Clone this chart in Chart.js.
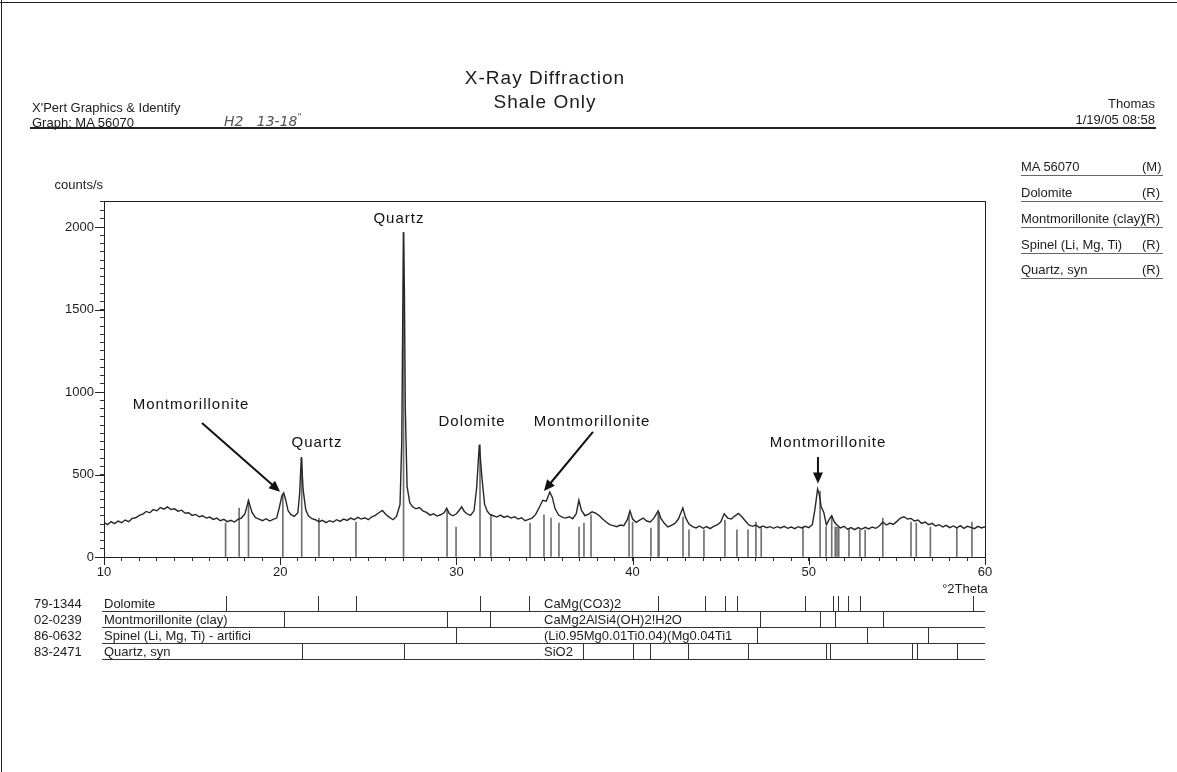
<!DOCTYPE html>
<html>
<head>
<meta charset="utf-8">
<title>X-Ray Diffraction - Shale Only</title>
<script src="https://cdn.jsdelivr.net/npm/chart.js@4.4.1/dist/chart.umd.min.js"></script>
<style>
  html, body { margin: 0; padding: 0; background: #fff; }
  #page { position: relative; width: 1177px; height: 772px; overflow: hidden;
          font-family: "Liberation Sans", Arial, sans-serif; color: #1c1c1c; }
  #page canvas { position: absolute; left: 0; top: 0; }
  .txt { position: absolute; white-space: nowrap; font-size: 13px; line-height: 15px; }
  .rule { position: absolute; background: #222; }
  .title { position: absolute; left: 395px; width: 300px; text-align: center;
           font-size: 19px; line-height: 22px; letter-spacing: 1px; }
  .hand { position: absolute; font-family: "DejaVu Sans", sans-serif; font-style: italic;
          font-size: 14px; color: #555; white-space: nowrap; }
  .leg { position: absolute; left: 1021px; width: 142px; height: 16px;
         border-bottom: 1px solid #666; font-size: 13px; line-height: 15px; }
  .leg .nm { position: absolute; left: 0; top: 0; width: 126px; overflow: hidden; white-space: nowrap; }
  .leg .rt { position: absolute; left: 121px; top: 0; white-space: nowrap; }
</style>
</head>
<body>
<div id="page">
  <canvas id="xrdChart" width="1177" height="772"></canvas>

  <div class="rule" style="left:1px;top:0;width:1px;height:772px;"></div>
  <div class="rule" style="left:0;top:2px;width:1177px;height:1px;"></div>

  <div class="txt" style="left:32px;top:100px;">X'Pert Graphics &amp; Identify</div>
  <div class="txt" style="left:32px;top:115px;">Graph: MA 56070</div>
  <div class="hand" style="left:224px;top:112px;">H2&nbsp;&nbsp;&nbsp;13-18<sup style="font-size:9px">"</sup></div>
  <div class="title" style="top:67px;">X-Ray Diffraction</div>
  <div class="title" style="top:91px;">Shale Only</div>
  <div class="txt" style="right:22px;top:96px;text-align:right;">Thomas</div>
  <div class="txt" style="right:22px;top:112px;text-align:right;">1/19/05 08:58</div>
  <div class="rule" style="left:30px;top:127px;width:1126px;height:2px;"></div>

  <div class="leg" style="top:159px;"><span class="nm">MA 56070</span><span class="rt">(M)</span></div>
  <div class="leg" style="top:185px;"><span class="nm">Dolomite</span><span class="rt">(R)</span></div>
  <div class="leg" style="top:211px;"><span class="nm">Montmorillonite (clay)</span><span class="rt">(R)</span></div>
  <div class="leg" style="top:237px;"><span class="nm">Spinel (Li, Mg, Ti)</span><span class="rt">(R)</span></div>
  <div class="leg" style="top:262px;"><span class="nm">Quartz, syn</span><span class="rt">(R)</span></div>
</div>

<script>
// measured scan, [°2Theta, counts/s]
const scanPoints = [
  [10.0,210],[10.2,196],[10.4,214],[10.6,202],[10.8,218],[11.0,208],[11.2,224],[11.4,214],[11.6,234],[11.8,238],
  [12.0,252],[12.2,260],[12.4,276],[12.6,268],[12.8,288],[13.0,280],[13.2,300],[13.4,290],[13.6,304],[13.8,288],
  [14.0,292],[14.2,278],[14.4,284],[14.6,266],[14.8,268],[15.0,252],[15.2,258],[15.4,244],[15.6,250],[15.8,236],
  [16.0,242],[16.2,228],[16.4,236],[16.6,220],[16.8,228],[17.0,214],[17.2,222],[17.4,212],[17.6,228],[17.8,236],
  [18.0,262],[18.2,342],[18.4,270],[18.6,238],[18.8,230],[19.0,220],[19.2,232],[19.4,218],[19.6,228],[19.8,236],
  [19.95,300],[20.1,372],[20.2,388],[20.3,352],[20.45,280],[20.6,258],[20.8,246],[21.0,268],[21.1,380],[21.2,606],
  [21.3,410],[21.45,286],[21.6,250],[21.8,232],[22.0,226],[22.2,214],[22.4,222],[22.6,208],[22.8,220],[23.0,212],
  [23.2,226],[23.4,216],[23.6,230],[23.8,222],[24.0,236],[24.2,226],[24.4,240],[24.6,230],[24.8,238],[25.0,226],
  [25.2,244],[25.4,252],[25.6,268],[25.8,282],[26.0,258],[26.2,240],[26.4,226],[26.6,246],[26.8,318],[26.9,700],
  [26.95,1400],[27.0,1968],[27.05,1600],[27.1,900],[27.2,430],[27.35,330],[27.5,306],[27.7,292],[27.9,300],[28.1,280],
  [28.3,270],[28.5,254],[28.7,262],[28.9,248],[29.1,256],[29.3,268],[29.45,296],[29.6,262],[29.8,250],[30.0,262],
  [30.15,282],[30.3,304],[30.45,276],[30.6,262],[30.8,252],[31.0,280],[31.15,420],[31.3,680],[31.45,480],[31.6,320],
  [31.75,278],[31.9,258],[32.1,250],[32.3,242],[32.5,254],[32.7,240],[32.9,248],[33.1,236],[33.3,244],[33.5,230],
  [33.7,238],[33.9,220],[34.1,228],[34.3,236],[34.5,258],[34.7,300],[34.9,344],[35.1,338],[35.3,394],[35.45,360],
  [35.6,292],[35.8,254],[36.0,242],[36.2,236],[36.4,244],[36.6,232],[36.8,262],[36.95,344],[37.1,282],[37.3,250],
  [37.5,260],[37.7,274],[37.9,266],[38.1,252],[38.3,230],[38.5,212],[38.7,196],[38.9,190],[39.1,184],[39.3,194],
  [39.5,190],[39.7,226],[39.85,280],[40.0,230],[40.2,210],[40.4,224],[40.6,236],[40.8,218],[41.0,212],[41.2,234],
  [41.45,280],[41.6,236],[41.8,204],[42.0,182],[42.2,192],[42.4,204],[42.6,230],[42.85,298],[43.0,240],[43.2,200],
  [43.4,184],[43.6,176],[43.8,188],[44.0,174],[44.2,184],[44.4,172],[44.6,186],[44.8,194],[45.0,212],[45.2,262],
  [45.4,236],[45.6,230],[45.8,248],[46.0,264],[46.2,244],[46.4,218],[46.6,194],[46.8,186],[47.0,194],[47.2,178],
  [47.4,188],[47.6,178],[47.8,184],[48.0,174],[48.2,184],[48.4,176],[48.6,186],[48.8,174],[49.0,182],[49.2,172],
  [49.4,184],[49.6,176],[49.8,186],[50.0,178],[50.2,196],[50.35,290],[50.5,412],[50.6,376],[50.7,306],[50.85,270],
  [51.0,194],[51.15,226],[51.3,250],[51.45,212],[51.6,194],[51.8,176],[52.0,186],[52.2,168],[52.4,178],[52.6,166],
  [52.8,178],[53.0,168],[53.2,180],[53.4,170],[53.6,182],[53.8,174],[54.0,188],[54.2,212],[54.4,194],[54.6,206],
  [54.8,198],[55.0,216],[55.2,236],[55.4,244],[55.6,230],[55.8,234],[56.0,218],[56.2,224],[56.4,204],[56.6,212],
  [56.8,196],[57.0,204],[57.2,188],[57.4,196],[57.6,182],[57.8,192],[58.0,178],[58.2,188],[58.4,176],[58.6,190],
  [58.8,174],[59.0,186],[59.2,180],[59.4,172],[59.6,186],[59.8,176],[60.0,184]
];

// peak list sticks, [°2Theta, top in counts/s]
const peakSticks = [
  [16.9,206],[17.67,297],[18.2,345],[20.15,380],[21.22,600],[22.2,236],[24.3,212],[27.0,1968],
  [29.47,285],[29.98,182],[31.34,680],[31.96,255],[34.18,206],[34.97,255],[35.37,236],[35.82,206],
  [36.96,182],[37.24,206],[37.64,255],[39.8,255],[40.0,212],[41.04,176],[41.45,267],[41.5,267],
  [42.86,242],[43.2,164],[44.05,164],[45.24,224],[45.92,164],[46.55,164],[47.0,212],[47.3,182],
  [49.67,182],[50.64,400],[50.98,182],[51.3,248],[51.5,182],[51.6,182],[51.7,182],[52.28,176],
  [52.9,164],[53.2,164],[54.2,236],[55.8,212],[56.1,206],[56.9,182],[58.4,176],[59.26,212]
];

const xMajorTicks = [10, 20, 30, 40, 50, 60];
const yMajorTicks = [0, 500, 1000, 1500, 2000];

// reference patterns under the plot
const refCodes = ['79-1344', '02-0239', '86-0632', '83-2471'];
const refNames = ['Dolomite', 'Montmorillonite (clay)', 'Spinel (Li, Mg, Ti) - artifici', 'Quartz, syn'];
const refFormulas = ['CaMg(CO3)2', 'CaMg2AlSi4(OH)2!H2O', '(Li0.95Mg0.01Ti0.04)(Mg0.04Ti1', 'SiO2'];
const dolomiteLines = [16.9, 22.15, 24.3, 31.34, 34.1, 41.45, 44.1, 45.24, 45.9, 49.78, 51.37, 51.66, 52.2, 52.9, 59.32];
const montLines = [20.2, 29.47, 31.9, 47.23, 50.64, 51.49, 54.23];
const spinelLines = [29.98, 47.04, 53.28, 56.78];
const quartzLines = [21.22, 27.0, 37.2, 40.04, 41.0, 43.16, 46.57, 50.98, 51.2, 55.84, 56.12, 58.39];
const refLines = [dolomiteLines, montLines, spinelLines, quartzLines];

// labels and arrows, in data coordinates
const notes = [
  { text: 'Quartz', at: [26.74, 2050] },
  { text: 'Montmorillonite', at: [14.94, 921], from: [15.56, 812], to: [19.99, 396] },
  { text: 'Quartz', at: [22.09, 691] },
  { text: 'Dolomite', at: [30.89, 818] },
  { text: 'Montmorillonite', at: [37.70, 818], from: [37.75, 758], to: [34.97, 400] },
  { text: 'Montmorillonite', at: [51.09, 691], from: [50.52, 606], to: [50.52, 445] }
];

const FONT = '"Liberation Sans", Arial, sans-serif';

function drawArrow(c, x1, y1, x2, y2) {
  const a = Math.atan2(y2 - y1, x2 - x1);
  const len = 11, half = 5;
  c.beginPath();
  c.moveTo(x1, y1);
  c.lineTo(x2 - Math.cos(a) * len * 0.8, y2 - Math.sin(a) * len * 0.8);
  c.lineWidth = 2;
  c.strokeStyle = '#111';
  c.stroke();
  c.beginPath();
  c.moveTo(x2, y2);
  c.lineTo(x2 - Math.cos(a) * len - Math.sin(a) * half, y2 - Math.sin(a) * len + Math.cos(a) * half);
  c.lineTo(x2 - Math.cos(a) * len + Math.sin(a) * half, y2 - Math.sin(a) * len - Math.cos(a) * half);
  c.closePath();
  c.fillStyle = '#111';
  c.fill();
}

// frame, long ticks, notes and the reference table
const xrdDecor = {
  id: 'xrdDecor',
  afterDraw(chart) {
    const c = chart.ctx;
    const xs = chart.scales.x, ys = chart.scales.y;
    const area = chart.chartArea;
    c.save();

    c.strokeStyle = '#222';
    c.lineWidth = 1;
    c.strokeRect(Math.round(area.left) + 0.5, Math.round(area.top) + 0.5,
                 Math.round(area.right - area.left), Math.round(area.bottom - area.top));

    c.beginPath();
    xMajorTicks.forEach(v => {
      const px = Math.round(xs.getPixelForValue(v)) + 0.5;
      c.moveTo(px, area.bottom); c.lineTo(px, area.bottom + 8);
    });
    yMajorTicks.forEach(v => {
      const py = Math.round(ys.getPixelForValue(v)) + 0.5;
      c.moveTo(area.left - 9, py); c.lineTo(area.left, py);
    });
    c.stroke();

    c.fillStyle = '#1c1c1c';
    c.font = '13px ' + FONT;
    c.textBaseline = 'middle';
    c.textAlign = 'right';
    c.fillText('counts/s', area.left - 1, 185);
    c.textAlign = 'center';
    c.fillText('°2Theta', area.right - 20, 589);

    c.font = '15px ' + FONT;
    c.letterSpacing = '1px';
    notes.forEach(n => {
      c.fillStyle = '#111';
      c.fillText(n.text, xs.getPixelForValue(n.at[0]), ys.getPixelForValue(n.at[1]));
      if (n.from) {
        drawArrow(c, xs.getPixelForValue(n.from[0]), ys.getPixelForValue(n.from[1]),
                     xs.getPixelForValue(n.to[0]), ys.getPixelForValue(n.to[1]));
      }
    });
    c.letterSpacing = '0px';

    // reference rows
    c.font = '13px ' + FONT;
    c.textAlign = 'left';
    c.fillStyle = '#1c1c1c';
    c.strokeStyle = '#333';
    c.lineWidth = 1;
    refCodes.forEach((code, i) => {
      const base = 611 + i * 16;
      c.fillText(code, 34, base - 7);
      c.fillText(refNames[i], 104, base - 7);
      c.fillText(refFormulas[i], 544, base - 7);
      c.beginPath();
      c.moveTo(102, base + 0.5); c.lineTo(area.right, base + 0.5);
      refLines[i].forEach(t => {
        const px = Math.round(xs.getPixelForValue(t)) + 0.5;
        c.moveTo(px, base - 15); c.lineTo(px, base);
      });
      c.stroke();
    });

    c.restore();
  }
};

new Chart(document.getElementById('xrdChart'), {
  type: 'line',
  data: {
    datasets: [
      {
        label: 'MA 56070',
        data: scanPoints.map(p => ({ x: p[0], y: p[1] })),
        borderColor: '#262626',
        borderWidth: 1.4,
        pointRadius: 0,
        tension: 0,
        order: 0
      },
      {
        type: 'bar',
        label: 'Peak list',
        data: peakSticks.map(p => ({ x: p[0], y: [0, p[1]] })),
        backgroundColor: '#707070',
        borderWidth: 0,
        barThickness: 1,
        order: 1
      }
    ]
  },
  options: {
    responsive: false,
    animation: false,
    layout: { padding: { left: 44, right: 192, top: 201, bottom: 185 } },
    plugins: { legend: { display: false }, tooltip: { enabled: false } },
    scales: {
      x: {
        type: 'linear', min: 10, max: 60, offset: false,
        afterFit: s => { s.height = 30; },
        grid: { drawOnChartArea: false, tickLength: 4, tickColor: '#333', offset: false },
        border: { color: '#222' },
        ticks: {
          stepSize: 1, autoSkip: false, maxRotation: 0, padding: 4,
          color: '#1c1c1c', font: { family: FONT, size: 13 },
          callback: v => (xMajorTicks.includes(v) ? String(v) : '')
        }
      },
      y: {
        min: 0, max: 2158,
        afterFit: s => { s.width = 60; },
        grid: { drawOnChartArea: false, tickLength: 4, tickColor: '#333' },
        border: { color: '#222' },
        ticks: {
          stepSize: 50, autoSkip: false, padding: 6,
          color: '#1c1c1c', font: { family: FONT, size: 13 },
          callback: v => (yMajorTicks.includes(v) ? String(v) : '')
        }
      }
    }
  },
  plugins: [xrdDecor]
});
</script>
</body>
</html>
